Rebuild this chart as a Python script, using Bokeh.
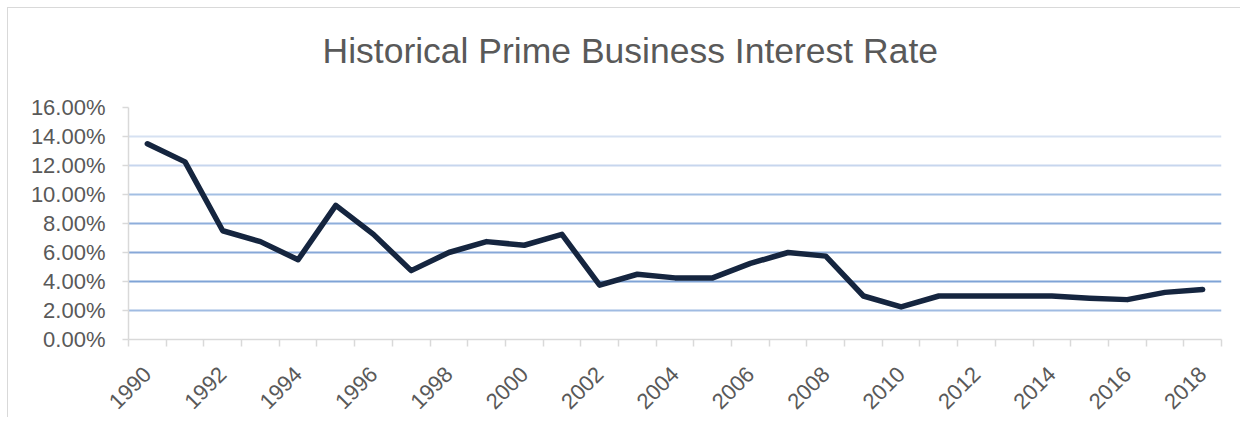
import math
from bokeh.plotting import figure
from bokeh.models import (ColumnDataSource, FixedTicker, Grid, Range1d, Title,
                          CustomJSTickFormatter)
from bokeh.embed import file_html
from bokeh.resources import INLINE

# ---- data ----
years = list(range(1990, 2019))
rates = [13.5, 12.25, 7.5, 6.75, 5.5, 9.25, 7.25, 4.75, 6.0, 6.75,
         6.5, 7.25, 3.75, 4.5, 4.25, 4.25, 5.25, 6.0, 5.75, 3.0,
         2.25, 3.0, 3.0, 3.0, 3.0, 2.85, 2.75, 3.25, 3.45]
label_years = list(range(1990, 2019, 2))
y_ticks = [0, 2, 4, 6, 8, 10, 12, 14, 16]
grid_colors = {2: "#a0bbe2", 4: "#7fa3d6", 6: "#87a8d8", 8: "#8eaedb",
               10: "#a3bfe3", 12: "#c7d6ee", 14: "#d6e1f2", 16: "#eef2fb"}
title_text = "Historical Prime Business Interest Rate"

FONT = "Liberation Sans"
GRAY = "#595959"

src = ColumnDataSource(dict(x=years, y=rates))

p = figure(width=1233, height=410, output_backend="svg", toolbar_location=None,
           title=None,
           x_range=Range1d(years[0] - 0.5, years[-1] + 0.5),
           y_range=Range1d(y_ticks[0], y_ticks[-1]),
           min_border_left=120, min_border_right=20,
           min_border_top=99, min_border_bottom=77)
p.styles = {"border-top": "1px solid #d9d9d9", "border-left": "1px solid #d9d9d9",
            "margin-top": "7px", "margin-left": "7px"}
p.outline_line_color = None
p.background_fill_color = "white"
p.border_fill_color = "white"
p.xgrid.visible = False
p.ygrid.visible = False

for v, c in grid_colors.items():
    g = Grid(dimension=1, ticker=FixedTicker(ticks=[v]), grid_line_color=c,
             grid_line_width=2)
    p.add_layout(g)

p.line("x", "y", source=src, line_color="#15253f", line_width=5.5,
       line_join="round", line_cap="round")

# blank (white) spacer directly above the plot area, then the title above it
spacer = Title(text=".", text_font_size="2px", text_color="white", standoff=19)
p.add_layout(spacer, "above")
main_title = Title(text=title_text, align="left", offset=194, standoff=30,
                   text_font=FONT, text_font_size="35.5px",
                   text_font_style="normal", text_color=GRAY)
p.add_layout(main_title, "above")

# x axis
xa = p.xaxis[0]
xa.ticker = FixedTicker(ticks=label_years,
                        minor_ticks=[y - 0.5 for y in years] + [years[-1] + 0.5])
xa.formatter = CustomJSTickFormatter(code="return String(Math.round(tick));")
xa.major_tick_line_color = None
xa.minor_tick_line_color = "#d9d9d9"
xa.minor_tick_out = 7
xa.minor_tick_in = 0
xa.minor_tick_line_width = 1.5
xa.axis_line_color = "#d9d9d9"
xa.axis_line_width = 1.5
xa.major_label_orientation = math.pi / 4
xa.major_label_text_font = FONT
xa.major_label_text_font_size = "22px"
xa.major_label_text_color = GRAY
xa.major_label_standoff = 24

# y axis
ya = p.yaxis[0]
ya.ticker = FixedTicker(ticks=y_ticks)
ya.formatter = CustomJSTickFormatter(code="return tick.toFixed(2) + '%';")
ya.major_tick_line_color = "#d9d9d9"
ya.major_tick_out = 6
ya.major_tick_in = 0
ya.major_tick_line_width = 1.5
ya.minor_tick_line_color = None
ya.axis_line_color = "#d9d9d9"
ya.axis_line_width = 1.5
ya.major_label_text_font = FONT
ya.major_label_text_font_size = "22px"
ya.major_label_text_color = GRAY
ya.major_label_standoff = 17

open("out.html", "w").write(file_html(p, INLINE))
